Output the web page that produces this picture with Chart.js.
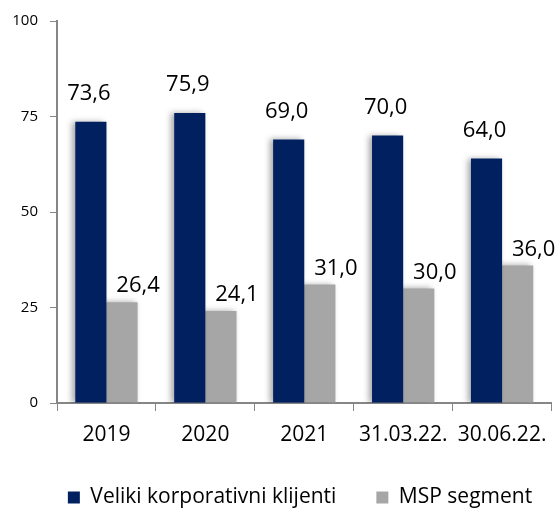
<!DOCTYPE html>
<html>
<head>
<meta charset="utf-8">
<script src="https://cdn.jsdelivr.net/npm/chart.js@4"></script>
<style>
  html, body { margin: 0; padding: 0; background: #fff; }
  #wrap { width: 558px; height: 509px; }
</style>
</head>
<body>
<div id="wrap"><canvas id="chart"></canvas></div>
<script>
const categories = ['2019', '2020', '2021', '31.03.22.', '30.06.22.'];
const largeCorporate = [73.6, 75.9, 69.0, 70.0, 64.0];
const smeSegment = [26.4, 24.1, 31.0, 30.0, 36.0];
const yTicks = [0, 25, 50, 75, 100];

const FONT = "'Open Sans', sans-serif";
const NAVY = '#002060';
const GREY = '#A6A6A6';
const AXIS = '#868686';

// value labels above bars (comma decimals), grey ones nudged right like the original
const valueLabels = {
  id: 'valueLabels',
  afterDatasetsDraw(chart) {
    const { ctx } = chart;
    ctx.save();
    ctx.font = `22px ${FONT}`;
    ctx.fillStyle = '#000';
    ctx.textAlign = 'center';
    ctx.textBaseline = 'middle';
    chart.data.datasets.forEach((ds, di) => {
      const meta = chart.getDatasetMeta(di);
      meta.data.forEach((bar, i) => {
        const txt = ds.data[i].toFixed(1).replace('.', ',');
        const dx = di === 1 ? 16 : -2;
        const dy = di === 1 ? 16 : 28;
        ctx.fillText(txt, bar.x + dx, bar.y - dy);
      });
    });
    ctx.restore();
  },
};

// soft shadow behind the bars
const barShadow = {
  id: 'barShadow',
  beforeDatasetsDraw(chart) {
    const ctx = chart.ctx;
    ctx.save();
    ctx.shadowColor = 'rgba(0,0,0,0.35)';
    ctx.shadowBlur = 6;
    ctx.shadowOffsetX = -3;
    ctx.shadowOffsetY = 0;
  },
  afterDatasetsDraw(chart) {
    chart.ctx.restore();
  },
};

// legend sits centred under the plot area rather than the whole canvas
const legendShift = {
  id: 'legendShift',
  afterLayout(chart) {
    const lg = chart.legend;
    lg.left += 24; lg.right += 24;
  },
};

new Chart(document.getElementById('chart'), {
  type: 'bar',
  data: {
    labels: categories,
    datasets: [
      { label: 'Veliki korporativni klijenti', data: largeCorporate, backgroundColor: NAVY },
      { label: 'MSP segment', data: smeSegment, backgroundColor: GREY },
    ],
  },
  options: {
    responsive: true,
    maintainAspectRatio: false,
    animation: false,
    events: [],
    layout: { padding: { top: 19, right: 6, left: 0, bottom: -9 } },
    datasets: { bar: { categoryPercentage: 0.63, barPercentage: 1.0 } },
    plugins: {
      tooltip: { enabled: false },
      legend: {
        position: 'bottom',
        labels: {
          font: { family: FONT, size: 21 },
          color: '#000',
          boxWidth: 12,
          boxHeight: 12,
          padding: 40,
        },
      },
    },
    scales: {
      y: {
        min: 0,
        max: 100,
        afterBuildTicks: (scale) => { scale.ticks = yTicks.map(v => ({ value: v })); },
        ticks: { font: { family: FONT, size: 15 }, color: '#000', padding: 12 },
        grid: { drawOnChartArea: false, tickLength: 7, color: AXIS },
        border: { color: AXIS, width: 2 },
        afterFit: (scale) => { scale.width = 57; },
      },
      x: {
        ticks: { font: { family: FONT, size: 21 }, color: '#000', padding: 11, autoSkip: false, maxRotation: 0 },
        grid: { drawOnChartArea: false, tickLength: 8, color: AXIS, offset: true },
        border: { color: AXIS, width: 2 },
        afterFit: (scale) => { scale.height = 44; },
      },
    },
  },
  plugins: [barShadow, valueLabels, legendShift],
});
</script>
</body>
</html>
